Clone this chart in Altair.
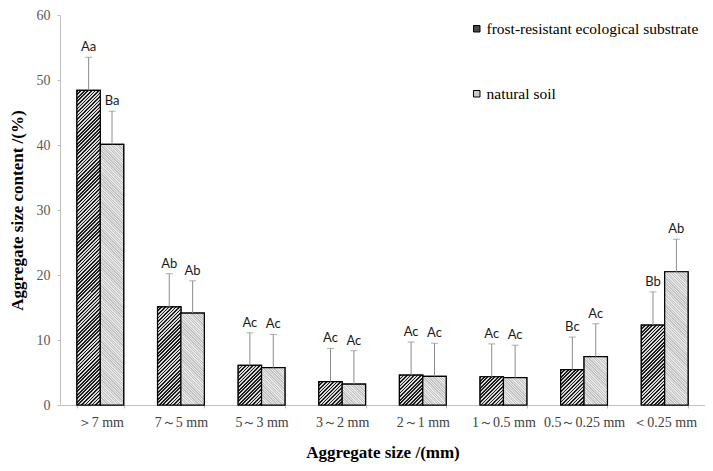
import math
import altair as alt
import pandas as pd

# ---------------- data ----------------
categories = ["＞7 mm", "7～5 mm", "5～3 mm", "3～2 mm", "2～1 mm",
              "1～0.5 mm", "0.5～0.25 mm", "＜0.25 mm"]
series = ["frost-resistant ecological substrate", "natural soil"]

fres_values = [48.4, 15.1, 6.1, 3.6, 4.6, 4.35, 5.45, 12.3]
fres_sd = [5.1, 5.1, 5.0, 5.1, 5.1, 5.05, 5.0, 5.1]
fres_letters = ["Aa", "Ab", "Ac", "Ac", "Ac", "Ac", "Bc", "Bb"]

ns_values = [40.1, 14.15, 5.75, 3.2, 4.4, 4.2, 7.45, 20.5]
ns_sd = [5.1, 4.95, 5.1, 5.15, 5.1, 5.0, 5.05, 5.0]
ns_letters = ["Ba", "Ab", "Ac", "Ac", "Ac", "Ac", "Ac", "Ab"]

rows = []
for i, c in enumerate(categories):
    rows.append(dict(idx=len(rows), cat=c, series=series[0], value=fres_values[i],
                     sd=fres_sd[i], letter=fres_letters[i]))
    rows.append(dict(idx=len(rows), cat=c, series=series[1], value=ns_values[i],
                     sd=ns_sd[i], letter=ns_letters[i]))
df = pd.DataFrame(rows)
df["top"] = df["value"] + df["sd"]

# ---------------- layout ----------------
PLOT_W, PLOT_H = 645, 390
Y_MAX = 60
PAD_IN, PAD_OUT = 0.42, 0.21
step = PLOT_W / (len(categories) - PAD_IN + 2 * PAD_OUT)
bar_w = step * (1 - PAD_IN) / 2
px_per_unit = PLOT_H / Y_MAX

SERIF = "Liberation Serif"
Y_TITLE = "Aggregate size content /(%)"


def stripes(w, h, period, dark, light, direction):
    """Linear gradient (bounding-box units) drawing 45-degree stripes."""
    h = max(h, 1.0)
    L = w + h
    k = L / (w * w + h * h)
    if direction > 0:
        x1, y1, x2, y2 = 0, 0, w * k, h * k
    else:
        x1, y1, x2, y2 = 0, 1, w * k, 1 - h * k
    n = L / (period * math.sqrt(2))
    dt = 1.0 / n
    stops = []
    t = 0.0
    while t < 1.0:
        a = round(t, 5)
        b = round(min(t + dt * 0.5, 1.0), 5)
        c = round(min(t + dt, 1.0), 5)
        stops += [{"offset": a, "color": dark}, {"offset": b, "color": dark},
                  {"offset": b, "color": light}, {"offset": c, "color": light}]
        t += dt
    return {"gradient": "linear", "x1": x1, "y1": y1, "x2": round(x2, 5),
            "y2": round(y2, 5), "stops": stops}


x_axis = alt.Axis(title="Aggregate size /(mm)", labelAngle=0, tickBand="extent",
                  tickSize=3, domainColor="#bfbfbf", tickColor="#bfbfbf",
                  labelFont=SERIF, labelFontSize=14, labelColor="#404040",
                  labelPadding=7, titleFont=SERIF, titleFontSize=17,
                  titleFontWeight="bold", titleColor="black", titlePadding=15)
y_axis = alt.Axis(title=Y_TITLE, values=list(range(0, 61, 10)),
                  grid=False, tickSize=3, domainColor="#bfbfbf", tickColor="#bfbfbf",
                  labelFont=SERIF, labelFontSize=14, labelColor="#595959",
                  labelPadding=7, titleFont=SERIF, titleFontSize=17,
                  titleFontWeight="bold", titleColor="black", titlePadding=10)
y_scale = alt.Scale(domain=[0, Y_MAX], nice=False, zero=True)

x_enc = alt.X("cat:N", sort=categories,
              scale=alt.Scale(domain=categories, paddingInner=PAD_IN, paddingOuter=PAD_OUT),
              axis=x_axis)
xo_enc = alt.XOffset("series:N", sort=series,
                     scale=alt.Scale(domain=series, paddingInner=0, paddingOuter=0))
y_val = alt.Y("value:Q", scale=y_scale, axis=y_axis, title=Y_TITLE)
y_top = alt.Y("top:Q", scale=y_scale, axis=y_axis, title=Y_TITLE)

base = alt.Chart().mark_bar(stroke="black", strokeWidth=1.2).encode(
    x=x_enc, xOffset=xo_enc, y=y_val,
    color=alt.Color("series:N", sort=series,
                    scale=alt.Scale(domain=series, range=["#4a4a4a", "#cccccc"]),
                    legend=alt.Legend(orient="none", legendX=409, legendY=6, title=None,
                                      symbolType="square", symbolSize=42,
                                      symbolStrokeColor="black", symbolStrokeWidth=1,
                                      labelFont=SERIF, labelFontSize=15.5, labelColor="black",
                                      labelOffset=2, rowPadding=48, labelLimit=0)),
)

layers = [base]
for r in rows:
    h_px = r["value"] * px_per_unit
    if r["series"] == series[0]:
        grad = stripes(bar_w, h_px, 2.5, "#1e1e1e", "#d8d8d8", 1)
    else:
        grad = stripes(bar_w, h_px, 1.8, "#c2c2c2", "#e8e8e8", -1)
    layers.append(
        alt.Chart().mark_bar(fill=grad, stroke="black", strokeWidth=1.2)
        .encode(x=x_enc, xOffset=xo_enc, y=y_val)
        .transform_filter(alt.datum.idx == r["idx"])
    )

err_rule = alt.Chart().mark_rule(color="#8c8c8c", strokeWidth=1).encode(
    x=x_enc, xOffset=xo_enc, y=y_val, y2="top:Q",
)
err_cap = alt.Chart().mark_tick(color="#8c8c8c", thickness=1, size=7).encode(
    x=x_enc, xOffset=xo_enc, y=y_top,
)
letters = alt.Chart().mark_text(font="Lato", fontSize=13, color="#1a1a1a",
                                baseline="alphabetic", dy=-6).encode(
    x=x_enc, xOffset=xo_enc, y=y_top, text="letter:N",
)

chart = alt.layer(*layers, err_rule, err_cap, letters, data=df).properties(
    width=PLOT_W, height=PLOT_H,
    autosize=alt.AutoSizeParams(type="none"),
    padding={"left": 52, "top": 7, "right": 0, "bottom": 58},
    background="white",
).configure_view(stroke=None)

chart.save("out.html", embed_options={"renderer": "svg", "actions": False})
